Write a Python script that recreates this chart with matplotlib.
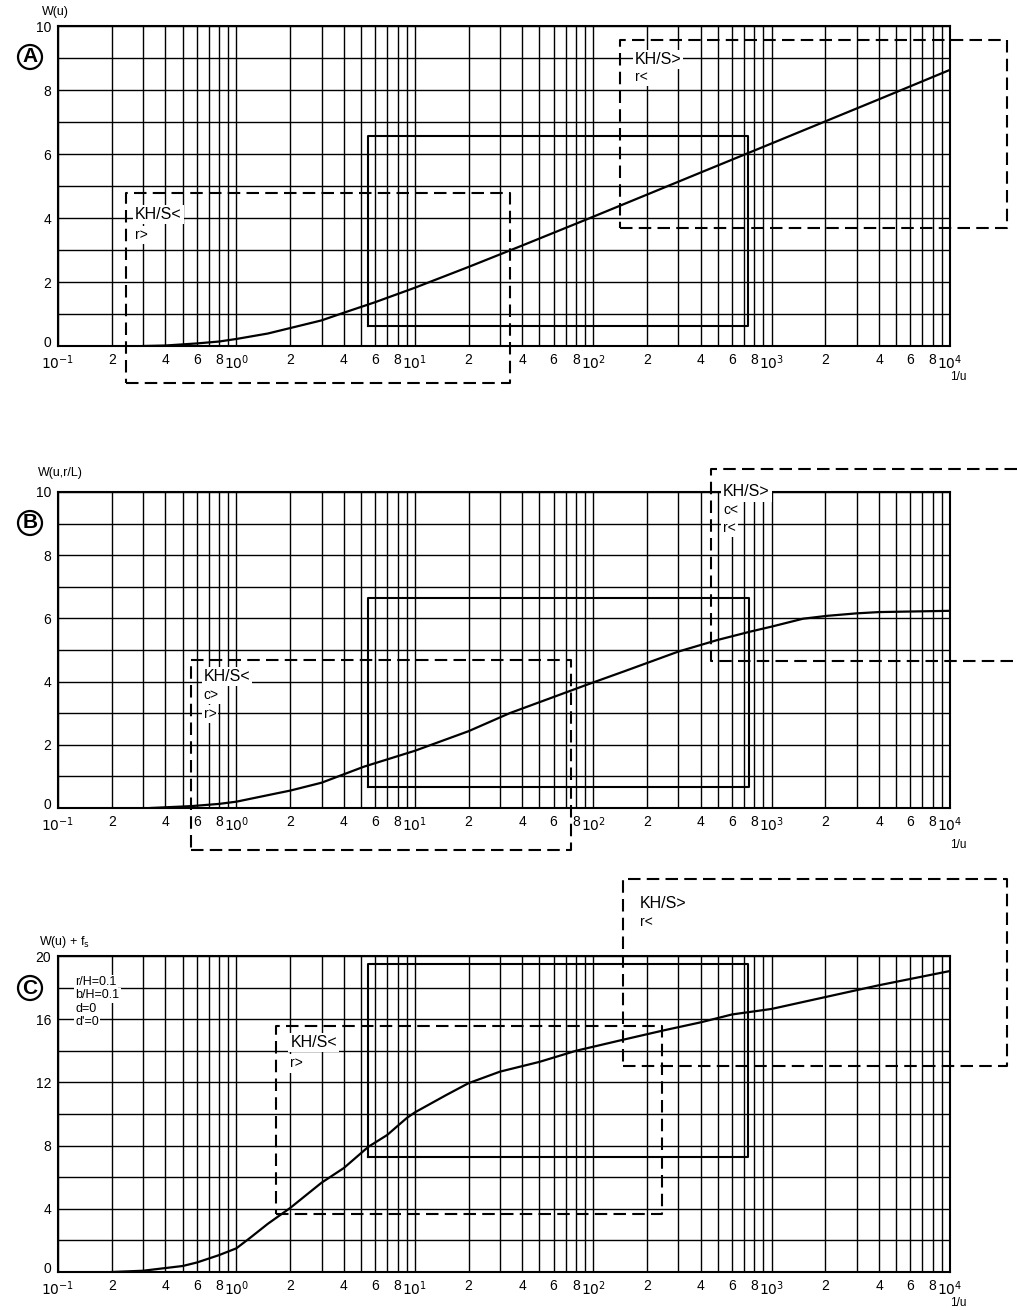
import numpy as np
import matplotlib
matplotlib.use('Agg')
import matplotlib.pyplot as plt
from matplotlib.transforms import ScaledTranslation

plt.rcParams['font.family'] = ['Liberation Sans', 'DejaVu Sans']

# curve values (1/u, W)
a_inv_u = [0.3, 0.4, 0.6, 0.8, 1, 1.5, 2, 3, 4, 6, 10, 20, 40, 100, 200, 400, 1000, 2000, 4000, 10000]
a_w = [0.0, 0.015, 0.08, 0.14, 0.22, 0.39, 0.56, 0.8, 1.04, 1.37, 1.82, 2.47, 3.14, 4.04, 4.73, 5.42,
       6.33, 7.02, 7.71, 8.63]

b_inv_u = [0.33, 0.56, 0.8, 1, 1.67, 2, 3, 5.2, 10, 20, 34, 91, 150, 300, 500, 757, 1000, 1500,
           2040, 3000, 4000, 10000]
b_w = [0.0, 0.06, 0.13, 0.2, 0.46, 0.55, 0.8, 1.31, 1.81, 2.43, 3.0, 3.89, 4.33, 4.95, 5.32, 5.58,
       5.74, 5.99, 6.08, 6.16, 6.2, 6.24]

c_inv_u = [0.2, 0.3, 0.4, 0.5, 0.6, 0.8, 1, 1.19, 1.5, 2, 3, 4, 5.5, 7, 9, 10, 15, 20, 30, 50, 80,
           147, 250, 400, 600, 1000, 2000, 4000, 10000]
c_w = [0.0, 0.08, 0.25, 0.38, 0.6, 1.07, 1.5, 2.15, 3.05, 4.05, 5.65, 6.58, 7.93, 8.67, 9.74, 10.1,
       11.2, 11.95, 12.68, 13.3, 14.0, 14.7, 15.3, 15.8, 16.3, 16.65, 17.4, 18.15, 19.05]

# boxes: (x0, x1, y0, y1, style)
a_boxes = [(5.5, 740, 0.63, 6.56, 'solid'),
           (0.24, 34, -1.15, 4.78, 'dashed'),
           (142, 20900, 3.68, 9.56, 'dashed')]
b_boxes = [(5.5, 745, 0.67, 6.64, 'solid'),
           (0.56, 75, -1.33, 4.68, 'dashed')]
c_boxes = [(5.5, 740, 7.3, 19.5, 'solid'),
           (1.67, 242, 3.67, 15.57, 'dashed'),
           (147, 20900, 13.04, 24.9, 'dashed')]

# labels: (x, y, text, size)
a_labels = [(0.27, 4.12, 'KH/S<', 11.5), (0.27, 3.47, 'r>', 10),
            (171, 8.94, 'KH/S>', 11.5), (171, 8.4, 'r<', 10)]
b_labels = [(0.655, 4.16, 'KH/S<', 11.5), (0.655, 3.58, 'c>', 10), (0.655, 2.97, 'r>', 10),
            (535, 10.0, 'KH/S>', 11.5), (535, 9.43, 'c<', 10), (535, 8.86, 'r<', 10)]
c_labels = [(2.01, 14.5, 'KH/S<', 11.5), (2.01, 13.2, 'r>', 10),
            (183, 23.35, 'KH/S>', 11.5), (183, 22.15, 'r<', 10)]
c_params = ['r/H=0.1', 'b/H=0.1', 'd=0', "d'=0"]

decades = [-1, 0, 1, 2, 3]
xticks = []
xlabels = []
for d in decades:
    for m in range(1, 10):
        xticks.append(m * 10.0 ** d)
        if m == 1:
            xlabels.append('$10^{%d}$' % d)
        elif m % 2 == 0:
            xlabels.append(str(m))
        else:
            xlabels.append('')
xticks.append(1e4)
xlabels.append('$10^{4}$')


def box(ax, x0, x1, y0, y1, style):
    ls = '-' if style == 'solid' else (0, (6, 3))
    ax.plot([x0, x1, x1, x0, x0], [y0, y0, y1, y1, y0], color='black', lw=1.5,
            ls=ls, clip_on=False, zorder=4)


def panel(rect, ymax, ystep, ylabstep, x, y, boxes, labels):
    ax = fig.add_axes(rect)
    ax.set_xscale('log')
    ax.set_xlim(0.1, 1e4)
    ax.set_ylim(0, ymax)
    ax.set_xticks(xticks, xlabels)
    ax.set_xticks([], minor=True)
    yt = np.arange(0, ymax + 1, ystep)
    ax.set_yticks(yt, [str(v) if v % ylabstep == 0 else '' for v in yt])
    ax.tick_params(length=0, labelsize=10)
    ax.tick_params(axis='x', pad=5)
    ax.tick_params(axis='y', pad=5)
    ax.grid(True, color='black', lw=1.0)
    for s in ax.spines.values():
        s.set_linewidth(1.5)
    # lift the "0" a little so it clears the 10^-1 label
    lab0 = ax.get_yticklabels()[0]
    lab0.set_transform(lab0.get_transform() + ScaledTranslation(0, 3 / 72, fig.dpi_scale_trans))
    ax.plot(x, y, color='black', lw=1.6, zorder=5)
    for b in boxes:
        box(ax, *b)
    for lx, ly, t, sz in labels:
        ax.text(lx, ly, t, fontsize=sz, va='center', ha='left', zorder=6,
                bbox=dict(fc='white', ec='none', pad=1.5))
    return ax


fig = plt.figure(figsize=(10.17, 13.1), dpi=100)

W = 1017.0
H = 1310.0
left = 58 / W
width = (950 - 58) / W

ax_a = panel([left, 1 - 346 / H, width, 320 / H], 10, 1, 2, a_inv_u, a_w, a_boxes, a_labels)
ax_b = panel([left, 1 - 808 / H, width, 316 / H], 10, 1, 2, b_inv_u, b_w, b_boxes, b_labels)
ax_c = panel([left, 1 - 1272 / H, width, 316 / H], 20, 2, 4, c_inv_u, c_w, c_boxes, c_labels)

# open dashed box in B (runs off the right edge)
ax_b.plot([23800, 456, 456, 23800], [10.74, 10.74, 4.65, 4.65], color='black', lw=1.5,
          ls=(0, (6, 3)), clip_on=False, zorder=4)

for i, t in enumerate(c_params):
    ax_c.text(0.125, 18.35 - i * 0.85, t, fontsize=9, va='center', ha='left', zorder=6,
              bbox=dict(fc='white', ec='none', pad=1.0))

# y labels, panel letters, 1/u
fig.text(55 / W, 1 - 12 / H, 'W(u)', fontsize=9, ha='center', va='center')
fig.text(60 / W, 1 - 473 / H, 'W(u,r/L)', fontsize=9, ha='center', va='center')
fig.text(65 / W, 1 - 942 / H, 'W(u) + f$_{\\mathrm{s}}$', fontsize=9, ha='center', va='center')

for letter, yy in [('A', 57), ('B', 523), ('C', 988)]:
    fig.text(30 / W, 1 - yy / H, letter, fontsize=15, weight='bold', ha='center', va='center',
             bbox=dict(boxstyle='circle,pad=0.12', fc='white', ec='black', lw=1.6))

for yy in [377, 845, 1303]:
    fig.text(958 / W, 1 - yy / H, '1/u', fontsize=8.5, ha='center', va='center')

fig.savefig('out.png', dpi=100)
